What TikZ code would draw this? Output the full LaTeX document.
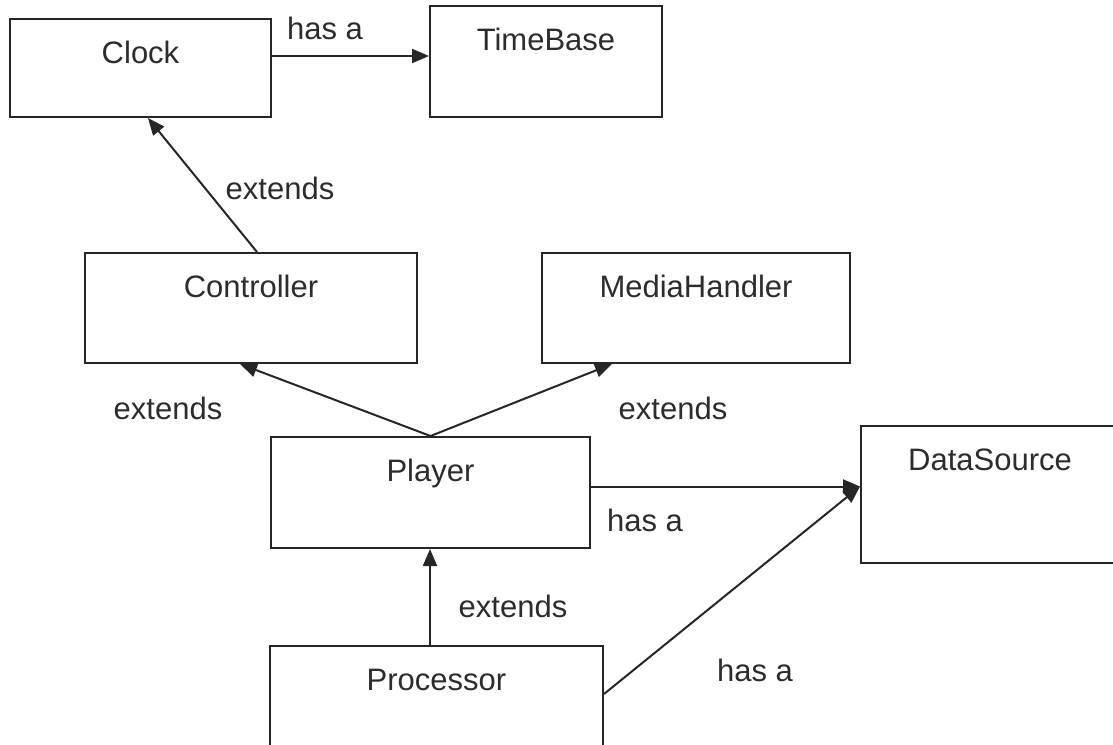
\documentclass[tikz,border=0pt]{standalone}
\usepackage{fontspec}
\setmainfont{Liberation Sans}
\usetikzlibrary{arrows.meta}
\definecolor{ink}{HTML}{262626}
\definecolor{txt}{HTML}{2C2C2C}
\begin{document}
\begin{tikzpicture}[x=1pt,y=-1pt,
  box/.style={draw=ink, line width=2pt, rectangle, inner sep=0pt},
  title/.style={anchor=base, text=txt, inner sep=0pt, font=\fontsize{31}{37}\selectfont},
  lbl/.style={text=txt, inner sep=0pt, font=\fontsize{31}{37}\selectfont},
  arr/.style={draw=ink, line width=2pt, -{Triangle[length=17pt,width=14pt]}}]
\useasboundingbox (0,0) rectangle (1113,744);

% class boxes
\node[box, minimum width=261pt, minimum height=98pt]  (clock)   at (140.5,68)  {};
\node[box, minimum width=232pt, minimum height=111pt] (tbase)   at (546,61.5)  {};
\node[box, minimum width=332pt, minimum height=110pt] (ctrl)    at (251,308)   {};
\node[box, minimum width=308pt, minimum height=110pt] (mhand)   at (696,308)   {};
\node[box, minimum width=319pt, minimum height=111pt] (player)  at (430.5,492.5) {};
\node[box, minimum width=258pt, minimum height=137pt] (dsrc)    at (990,494.5) {};
\node[box, minimum width=333pt, minimum height=124pt] (proc)    at (436.5,708) {};

% class names
\node[title] (clock-t)  at ([yshift=-45pt]clock.north)  {Clock};
\node[title] (tbase-t)  at ([yshift=-45pt]tbase.north)  {TimeBase};
\node[title] (ctrl-t)   at ([yshift=-45pt]ctrl.north)   {Controller};
\node[title] (mhand-t)  at ([yshift=-45pt]mhand.north)  {MediaHandler};
\node[title] (player-t) at ([yshift=-45pt]player.north) {Player};
\node[title] (dsrc-t)   at ([yshift=-45pt]dsrc.north)   {DataSource};
\node[title] (proc-t)   at ([yshift=-45pt]proc.north)   {Processor};

% relations
\draw[arr] ([yshift=12pt]clock.east) -- ([yshift=12pt]clock.east -| tbase.west);
\draw[arr] ([xshift=6pt]ctrl.north) -- ([xshift=7.5pt]clock.south);
\draw[arr] (player.north) -- ([xshift=-11pt]ctrl.south);
\draw[arr] (player.north) -- ([xshift=-84pt]mhand.south);
\draw[arr] ([yshift=6pt]player.east) -- ([yshift=6pt]player.east -| dsrc.west);
\draw[arr] ([xshift=-6.5pt]proc.north) -- ([xshift=-6.5pt]proc.north |- player.south);
\draw[arr] ([yshift=-49pt]proc.north east) -- ([yshift=6pt]player.east -| dsrc.west);

% relation labels
\node[lbl] (l1) at (325,28)  {has a};
\node[lbl] (l2) at (280,188) {extends};
\node[lbl] (l3) at (168,408) {extends};
\node[lbl] (l4) at (673,408) {extends};
\node[lbl] (l5) at (645,520) {has a};
\node[lbl] (l6) at (513,606) {extends};
\node[lbl] (l7) at (755,670) {has a};
\end{tikzpicture}
\end{document}
